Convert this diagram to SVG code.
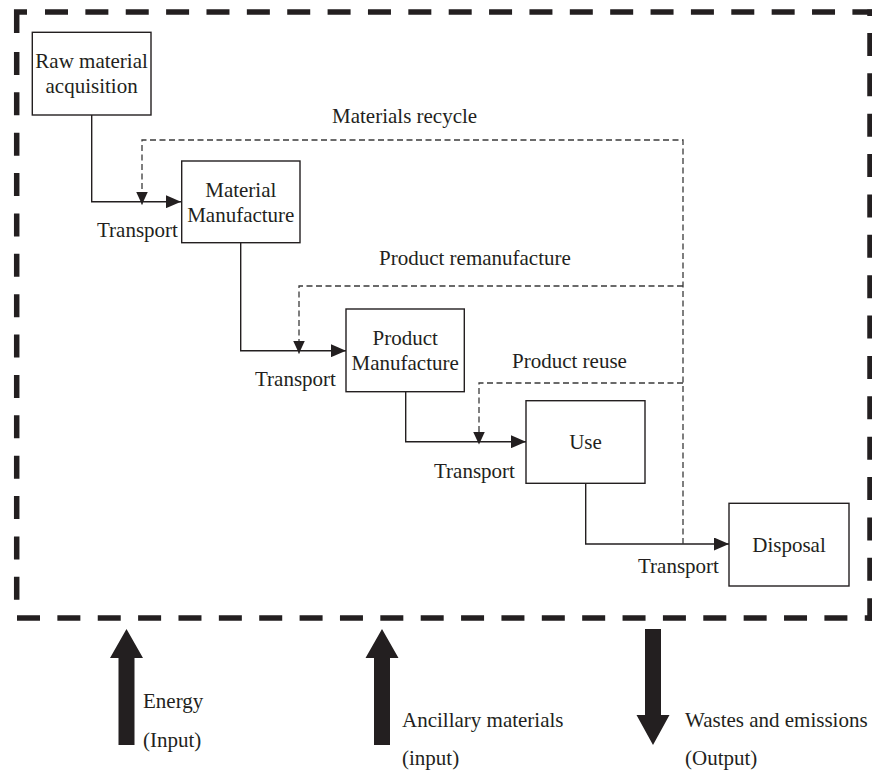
<svg xmlns="http://www.w3.org/2000/svg" width="872" height="771" viewBox="0 0 872 771">
  <style>
    text { font-family: "Liberation Serif", "Times New Roman", serif; font-size: 21px; fill: #231f20; }
    .mid { text-anchor: middle; }
    .box { fill: #ffffff; stroke: #231f20; stroke-width: 1.4; }
    .flow { fill: none; stroke: #231f20; stroke-width: 1.4; }
    .loop { fill: none; stroke: #3a3a3a; stroke-width: 1.3; stroke-dasharray: 6 3.5; }
    .border { fill: none; stroke: #231f20; stroke-width: 5.5; stroke-dasharray: 23 17.37; }
    .big { fill: #231f20; }
  </style>
  <defs>
    <marker id="head" viewBox="0 0 15 13" refX="15" refY="6.5" markerWidth="15" markerHeight="13" markerUnits="userSpaceOnUse" orient="auto">
      <path d="M0 0 L15 6.5 L0 13 Z" fill="#231f20"/>
    </marker>
    <marker id="headSmall" viewBox="0 0 13 12" refX="13" refY="6" markerWidth="13" markerHeight="12" markerUnits="userSpaceOnUse" orient="auto">
      <path d="M0 0 L13 6 L0 12 Z" fill="#231f20"/>
    </marker>
  </defs>

  <!-- system boundary -->
  <g id="boundary">
    <path d="M16.7 33 V12 H27" fill="none" stroke="#231f20" stroke-width="5.5"/>
    <line class="border" x1="45" y1="12" x2="872.5" y2="12"/>
    <line class="border" x1="870" y1="9.5" x2="870" y2="16"/>
    <line class="border" x1="870" y1="33" x2="870" y2="620.7"/>
    <line class="border" x1="16.7" y1="52" x2="16.7" y2="602"/>
    <line class="border" x1="17" y1="618" x2="872.5" y2="618"/>
  </g>

  <!-- connectors -->
  <g id="connectors">
    <path class="flow" d="M91.7 115 V201.7 H181" marker-end="url(#head)"/>
    <path class="flow" d="M240.7 242.7 V350.7 H346" marker-end="url(#head)"/>
    <path class="flow" d="M405.7 391.7 V441.7 H526" marker-end="url(#head)"/>
    <path class="flow" d="M585.7 483.3 V544 H729" marker-end="url(#head)"/>
    <path class="loop" d="M683 544 V140 H142 V204.5" marker-end="url(#headSmall)"/>
    <path class="loop" d="M683 286 H299 V353.5" marker-end="url(#headSmall)"/>
    <path class="loop" d="M683 383 H479 V444.5" marker-end="url(#headSmall)"/>
  </g>

  <!-- process stages -->
  <g id="raw">
    <rect class="box" x="32.3" y="32.3" width="118.7" height="82.7"/>
    <text class="mid" x="91.6" y="68">Raw material</text>
    <text class="mid" x="91.6" y="93">acquisition</text>
  </g>
  <g id="material">
    <rect class="box" x="181.7" y="161" width="118.3" height="81.7"/>
    <text class="mid" x="240.8" y="197">Material</text>
    <text class="mid" x="240.8" y="222">Manufacture</text>
  </g>
  <g id="product">
    <rect class="box" x="346" y="309" width="118.3" height="82.7"/>
    <text class="mid" x="405.2" y="345">Product</text>
    <text class="mid" x="405.2" y="370">Manufacture</text>
  </g>
  <g id="use">
    <rect class="box" x="526" y="400.7" width="119" height="82.6"/>
    <text class="mid" x="585.5" y="449">Use</text>
  </g>
  <g id="disposal">
    <rect class="box" x="729" y="503.3" width="120" height="82.7"/>
    <text class="mid" x="789" y="552">Disposal</text>
  </g>

  <!-- flow labels -->
  <g id="labels">
    <text x="97" y="237">Transport</text>
    <text x="255" y="386">Transport</text>
    <text x="434" y="478">Transport</text>
    <text x="638" y="573">Transport</text>
    <text x="332" y="123">Materials recycle</text>
    <text x="379" y="265">Product remanufacture</text>
    <text x="512" y="368">Product reuse</text>
  </g>

  <!-- exchanges across the boundary -->
  <g id="energy">
    <polygon class="big" points="126.5,629 143,658 134.5,658 134.5,745 118.5,745 118.5,658 110,658"/>
    <text x="143" y="708">Energy</text>
    <text x="143" y="747">(Input)</text>
  </g>
  <g id="ancillary">
    <polygon class="big" points="382,629 398.5,658 390,658 390,745 374,745 374,658 365.5,658"/>
    <text x="402" y="727">Ancillary materials</text>
    <text x="402" y="765">(input)</text>
  </g>
  <g id="wastes">
    <polygon class="big" points="645,629 661,629 661,715 669.5,715 653,745 636.5,715 645,715"/>
    <text x="685" y="727">Wastes and emissions</text>
    <text x="685" y="765">(Output)</text>
  </g>
</svg>
